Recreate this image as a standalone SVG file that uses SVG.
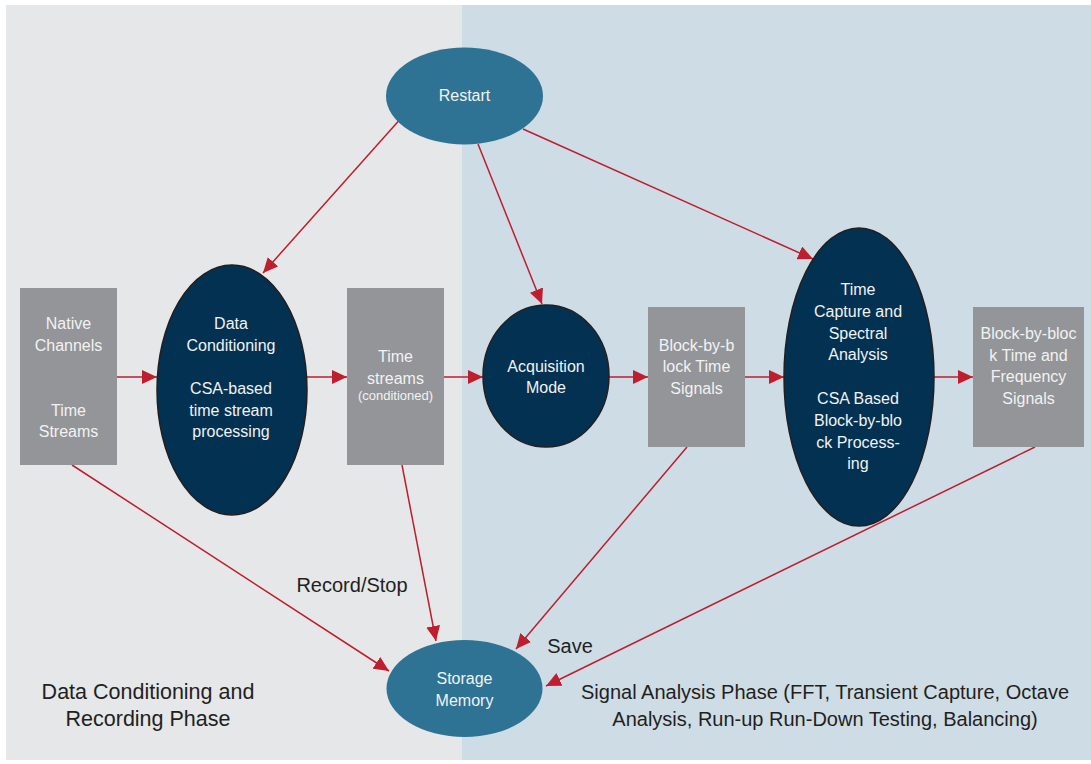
<svg xmlns="http://www.w3.org/2000/svg" width="1091" height="764" viewBox="0 0 1091 764">
<defs>
<style>
.bg1{fill:#e5e7e9}
.bg2{fill:#cedce6}
.box{fill:#939598}
.dark{fill:#023152;stroke:#231f20;stroke-width:1.5}
.teal{fill:#2e7394}
.nt{font-family:"Liberation Sans",Arial,sans-serif;font-size:16px;fill:#f2f2f2;text-anchor:middle}
.sm{font-size:13px}
.lbl{font-family:"Liberation Sans",Arial,sans-serif;font-size:20px;fill:#231f20;text-anchor:middle}
.big{font-size:21.5px}
.con{stroke:#be1e2d;stroke-width:1.5;fill:none;marker-end:url(#ah)}
</style>
<marker id="ah" markerUnits="userSpaceOnUse" markerWidth="16" markerHeight="14" refX="15" refY="7" orient="auto">
<path d="M0,0 L15,7 L0,14 Z" fill="#be1e2d"/>
</marker>
</defs>
<rect x="0" y="0" width="1091" height="764" fill="#ffffff"/>
<rect class="bg1" x="6" y="5" width="456" height="755"/>
<rect class="bg2" x="462" y="5" width="629" height="755"/>

<g id="connectors">
<line class="con" x1="403" y1="116" x2="263" y2="273"/>
<line class="con" x1="478" y1="144" x2="542" y2="304"/>
<line class="con" x1="523" y1="129" x2="813" y2="259"/>
<line class="con" x1="117" y1="377" x2="157" y2="377"/>
<line class="con" x1="307" y1="377" x2="347" y2="377"/>
<line class="con" x1="444" y1="377" x2="483" y2="377"/>
<line class="con" x1="609" y1="377" x2="648" y2="377"/>
<line class="con" x1="745" y1="377" x2="784" y2="377"/>
<line class="con" x1="934" y1="377" x2="973" y2="377"/>
<line class="con" x1="72" y1="465" x2="389" y2="671"/>
<line class="con" x1="402" y1="465" x2="436" y2="641"/>
<line class="con" x1="687" y1="447" x2="516" y2="649"/>
<line class="con" x1="1035" y1="447" x2="546" y2="686"/>
</g>

<g id="restart">
<ellipse class="teal" cx="464.5" cy="96" rx="78.5" ry="48.5"/>
<text class="nt" x="464.5" y="101">Restart</text>
</g>

<g id="native">
<rect class="box" x="20" y="288" width="97" height="177"/>
<text class="nt" x="68.5" y="329">Native</text>
<text class="nt" x="68.5" y="351">Channels</text>
<text class="nt" x="68.5" y="416">Time</text>
<text class="nt" x="68.5" y="437">Streams</text>
</g>

<g id="dataconditioning">
<ellipse class="dark" cx="232" cy="390" rx="75" ry="125"/>
<text class="nt" x="231" y="329">Data</text>
<text class="nt" x="231" y="351">Conditioning</text>
<text class="nt" x="231" y="394">CSA-based</text>
<text class="nt" x="231" y="416">time stream</text>
<text class="nt" x="231" y="437">processing</text>
</g>

<g id="timestreams">
<rect class="box" x="347" y="288" width="97" height="177"/>
<text class="nt" x="395.5" y="362">Time</text>
<text class="nt" x="395.5" y="384">streams</text>
<text class="nt sm" x="395.5" y="400">(conditioned)</text>
</g>

<g id="acquisition">
<ellipse class="dark" cx="546" cy="376" rx="63" ry="71"/>
<text class="nt" x="546" y="372">Acquisition</text>
<text class="nt" x="546" y="393">Mode</text>
</g>

<g id="blocktime">
<rect class="box" x="648" y="307" width="97" height="140"/>
<text class="nt" x="696.5" y="351">Block-by-b</text>
<text class="nt" x="696.5" y="372">lock Time</text>
<text class="nt" x="696.5" y="394">Signals</text>
</g>

<g id="timecapture">
<ellipse class="dark" cx="859" cy="377" rx="75" ry="149"/>
<text class="nt" x="858" y="295">Time</text>
<text class="nt" x="858" y="317">Capture and</text>
<text class="nt" x="858" y="339">Spectral</text>
<text class="nt" x="858" y="360">Analysis</text>
<text class="nt" x="858" y="404">CSA Based</text>
<text class="nt" x="858" y="426">Block-by-blo</text>
<text class="nt" x="858" y="448">ck Process-</text>
<text class="nt" x="858" y="469">ing</text>
</g>

<g id="blockfreq">
<rect class="box" x="973" y="307" width="111" height="140"/>
<text class="nt" x="1028.5" y="339">Block-by-bloc</text>
<text class="nt" x="1028.5" y="361">k Time and</text>
<text class="nt" x="1028.5" y="382">Frequency</text>
<text class="nt" x="1028.5" y="404">Signals</text>
</g>

<g id="storage">
<ellipse class="teal" cx="464.5" cy="688.5" rx="78" ry="48.5"/>
<text class="nt" x="464.5" y="684">Storage</text>
<text class="nt" x="464.5" y="706">Memory</text>
</g>

<g id="labels">
<text class="lbl" x="352" y="592">Record/Stop</text>
<text class="lbl" x="570" y="653">Save</text>
<text class="lbl big" x="148" y="699">Data Conditioning and</text>
<text class="lbl big" x="148" y="726">Recording Phase</text>
<text class="lbl" x="825" y="699">Signal Analysis Phase (FFT, Transient Capture, Octave</text>
<text class="lbl" x="825" y="726">Analysis, Run-up Run-Down Testing, Balancing)</text>
</g>
</svg>
